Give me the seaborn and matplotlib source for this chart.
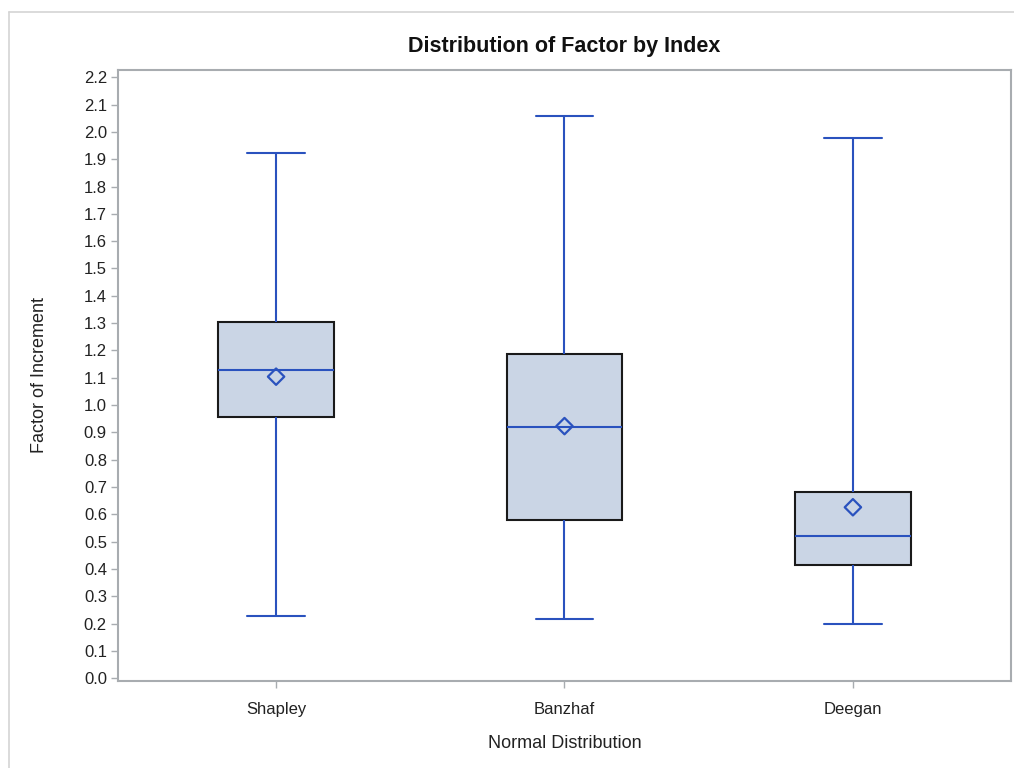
import matplotlib
matplotlib.use("Agg")
import matplotlib.pyplot as plt
from matplotlib.lines import Line2D
import numpy as np
import pandas as pd
import seaborn as sns

# Summary statistics of the increment factor for each power index
indexes = ["Shapley", "Banzhaf", "Deegan"]
minimums = [0.228, 0.217, 0.199]
lower_quartiles = [0.955, 0.579, 0.416]
medians = [1.128, 0.919, 0.521]
upper_quartiles = [1.303, 1.186, 0.683]
maximums = [1.923, 2.058, 1.978]
means = [1.104, 0.923, 0.626]
y_ticks = [round(0.1 * i, 1) for i in range(23)]

# Five-number summaries as long-form rows; with five points the linear
# percentiles fall exactly on the quartiles and the full-range whiskers
rows = []
for name, lo, q1, md, q3, hi in zip(indexes, minimums, lower_quartiles,
                                    medians, upper_quartiles, maximums):
    for v in (lo, q1, md, q3, hi):
        rows.append({"Index": name, "Factor": v})
df = pd.DataFrame(rows)

sns.set_theme(style="white")
plt.rcParams["font.family"] = ["Liberation Sans", "DejaVu Sans"]

BLUE = "#2A52BE"
FILL = "#CAD5E5"
GRID = "#A8ACB0"

fig = plt.figure(figsize=(10.14, 7.68), dpi=100)
ax = fig.add_axes([0.1164, 0.1133, 0.8806, 0.7956])

sns.boxplot(
    data=df, x="Index", y="Factor", order=indexes, ax=ax,
    whis=(0, 100), width=0.4, color=FILL, saturation=1,
    linecolor=BLUE, linewidth=1.5, showfliers=False,
    boxprops=dict(edgecolor="#1a1a1a", linewidth=1.5),
    medianprops=dict(color=BLUE, linewidth=1.5),
    whiskerprops=dict(color=BLUE, linewidth=1.5),
    capprops=dict(color=BLUE, linewidth=1.5),
)

# Mean markers
sns.scatterplot(x=indexes, y=means, ax=ax, marker="D", s=70,
                facecolor="none", edgecolor=BLUE, linewidth=1.6, zorder=5)

ax.set_xlim(-0.548, 2.548)
ax.set_ylim(-0.0099, 2.2266)
ax.set_yticks(y_ticks)
ax.set_yticklabels([f"{t:.1f}" for t in y_ticks])

for side in ("left", "right", "top", "bottom"):
    ax.spines[side].set_color(GRID)
    ax.spines[side].set_linewidth(1.5)
    ax.spines[side].set_visible(True)

ax.tick_params(axis="both", which="major", direction="out", length=5,
               width=1, color=GRID, labelsize=12, labelcolor="#222222",
               left=True, bottom=True)
ax.tick_params(axis="y", pad=3)
ax.tick_params(axis="x", pad=10)

ax.set_title("Distribution of Factor by Index", fontsize=15.5, fontweight="bold",
             color="#111111", pad=13)
ax.set_xlabel("Normal Distribution", fontsize=13, color="#222222", labelpad=13)
ax.set_ylabel("Factor of Increment", fontsize=13, color="#222222", labelpad=26)

# Thin frame around the graph area
fig.add_artist(Line2D([9 / 1014, 1.0], [1 - 12 / 768, 1 - 12 / 768],
                      transform=fig.transFigure, color="#D4D4D4", linewidth=1.2))
fig.add_artist(Line2D([9 / 1014, 9 / 1014], [0.0, 1 - 12 / 768],
                      transform=fig.transFigure, color="#D4D4D4", linewidth=1.2))

fig.savefig("out.png", dpi=100)
